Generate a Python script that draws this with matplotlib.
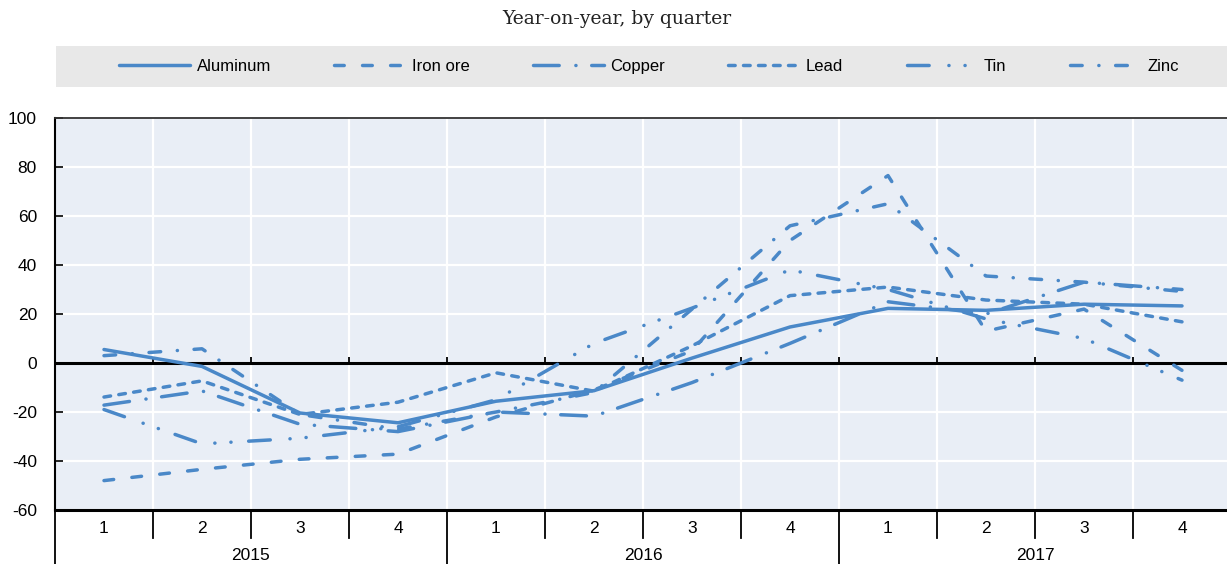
import matplotlib
matplotlib.use('Agg')
import matplotlib.pyplot as plt
import matplotlib.transforms as mtransforms
from matplotlib.patches import Rectangle
import numpy as np

# ---------------- data ----------------
years = ['2015', '2016', '2017']
quarters = ['1', '2', '3', '4']
series_names = ['Aluminum', 'Iron ore', 'Copper', 'Lead', 'Tin', 'Zinc']

aluminum = [5.5, -1.4, -20.4, -24.4, -15.6, -11.3, 2.0, 14.7, 22.3, 21.5, 24.0, 23.3]
iron_ore = [-48.0, -43.4, -39.3, -37.2, -22.0, -11.0, 5.0, 50.0, 76.5, 13.0, 22.0, -3.0]
copper = [-17.2, -11.4, -25.0, -28.0, -20.0, -21.7, -8.0, 8.0, 25.0, 20.0, 33.0, 30.0]
lead = [-13.9, -7.3, -21.0, -16.0, -4.0, -11.5, 7.0, 27.5, 31.0, 25.7, 24.0, 16.8]
tin = [-19.0, -33.0, -30.7, -26.0, -15.0, 8.0, 22.4, 38.0, 30.0, 18.0, 10.0, -7.0]
zinc = [3.0, 5.8, -21.0, -27.0, -20.0, -12.0, 22.0, 56.0, 65.0, 35.5, 33.0, 29.2]

y_ticks = [-60, -40, -20, 0, 20, 40, 60, 80, 100]
subtitle = 'Year-on-year, by quarter'

# ---------------- style ----------------
plt.rcParams['font.family'] = ['Liberation Sans', 'DejaVu Sans']
plt.rcParams['lines.scale_dashes'] = False

W, H = 1227, 564
fig = plt.figure(figsize=(W / 100, H / 100), dpi=100)
ax = fig.add_axes([55 / W, 1 - 510 / H, 1176 / W, 392 / H])

COLOR = '#4a88c8'
LW = 2.5
styles = [
    '-',
    (0, (7.0, 13.2)),
    (0, (18.5, 12.0, 0.1, 11.3)),
    (0, (4.8, 6.0)),
    (0, (15.6, 14.2, 0.1, 11.5, 0.1, 12.7)),
    (0, (8.4, 12.0, 0.1, 12.0)),
]
values = [aluminum, iron_ore, copper, lead, tin, zinc]

n = len(years) * len(quarters)
x = np.arange(n)

ax.set_facecolor('#e9eef6')
handles = []
for name, vals, ls in zip(series_names, values, styles):
    h, = ax.plot(x, vals, color=COLOR, lw=LW, ls=ls, label=name,
                 dash_capstyle='round', solid_capstyle='round',
                 solid_joinstyle='round', dash_joinstyle='round', zorder=3)
    handles.append(h)

ax.set_xlim(-0.5, n - 0.5)
ax.set_ylim(-60, 100)
ax.set_yticks(y_ticks)
ax.set_yticklabels([str(v) for v in y_ticks], fontsize=12.5)
ax.tick_params(axis='y', direction='in', length=6, width=1.2, color='black', pad=13)

# grid
bounds = np.arange(0.5, n - 0.5, 1)
ax.set_xticks(bounds, minor=True)
ax.set_xticks(x)
ax.set_xticklabels(quarters * len(years), fontsize=12.5)
ax.tick_params(axis='x', which='both', length=0, pad=8)
ax.grid(True, axis='y', color='white', lw=1.6)
ax.grid(True, axis='x', which='minor', color='white', lw=1.6)
ax.set_axisbelow(True)

# zero line + small ticks on it
ax.axhline(0, color='black', lw=2.2, zorder=2)
ax.vlines(bounds, 0, 2.4, color='black', lw=1.3, zorder=2)

for s in ['left', 'bottom']:
    ax.spines[s].set_color('black')
ax.spines['left'].set_linewidth(1.5)
ax.spines['bottom'].set_linewidth(2.2)
ax.spines['top'].set_color('#333333')
ax.spines['top'].set_linewidth(1.3)
ax.spines['right'].set_visible(False)

# category separators below axis
trans = mtransforms.blended_transform_factory(ax.transData, ax.transAxes)
px = 1 / 392
all_bounds = np.arange(-0.5, n, 1)
for i, b in enumerate(all_bounds):
    if i % len(quarters) == 0:
        y_end = -56 * px
    else:
        y_end = -28 * px
    ax.plot([b, b], [0, y_end], color='black', lw=1.3, transform=trans, clip_on=False)

for j, yr in enumerate(years):
    cx = j * len(quarters) + (len(quarters) - 1) / 2
    ax.text(cx, -45 * px, yr, transform=trans, ha='center', va='center', fontsize=12.5)

# subtitle
fig.text(617 / W, 1 - 19 / H, subtitle, ha='center', va='center',
         family='DejaVu Serif', fontsize=13.5, color='#222222')

# legend background + legend
fig.patches.append(Rectangle((56 / W, 1 - 87 / H), (W - 56) / W, 41 / H,
                             transform=fig.transFigure, facecolor='#e8e8e8',
                             edgecolor='none', zorder=0))
fig.legend(handles=handles, labels=series_names, loc='center',
           bbox_to_anchor=(649 / W, 1 - 66.5 / H), ncol=6, frameon=False,
           handlelength=4.25, handletextpad=0.4, columnspacing=3.8,
           fontsize=12)

fig.savefig('out.png', dpi=100)
